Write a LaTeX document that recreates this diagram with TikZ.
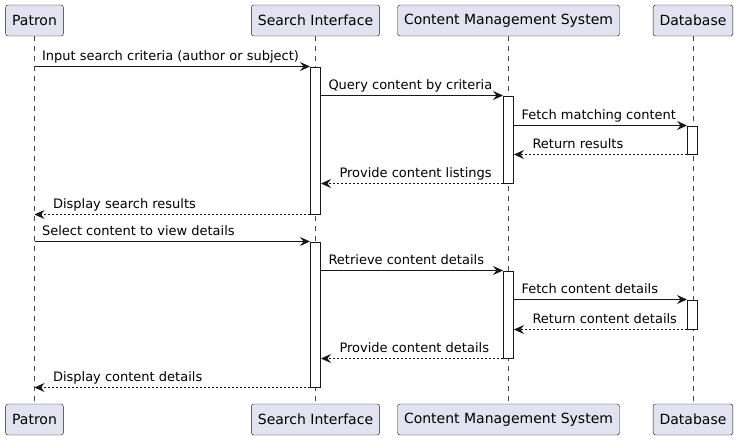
\documentclass[tikz,border=0pt]{standalone}
\usepackage{fontspec}
\setmainfont{DejaVu Sans}
\usetikzlibrary{arrows.meta}
\definecolor{partfill}{HTML}{E2E2F0}
\definecolor{partline}{HTML}{181818}
\tikzset{part/.style={rectangle,rounded corners=2.5pt,draw=partline,fill=partfill,minimum height=31pt,inner xsep=6.5pt,font=\fontsize{14}{16}\selectfont},
  act/.style={rectangle,draw=partline,fill=white,minimum width=10pt,inner sep=0pt,line width=1pt},
  life/.style={draw=partline!80,dash pattern=on 5pt off 5pt,line width=0.6pt},
  msg/.style={draw=partline,line width=1pt,-{Stealth[length=10pt,width=9pt,inset=3.5pt]}},
  ret/.style={msg,dash pattern=on 2pt off 2pt},
  lbl/.style={font=\fontsize{13}{15}\selectfont,inner sep=0pt,anchor=base west,text=black}}

\begin{document}
\begin{tikzpicture}[x=1pt,y=-1pt]
    \useasboundingbox (0,0) rectangle (738,440);
    \node[part] (pt) at (34.5,20.5) {Patron};
    \node[part] (st) at (315.5,20.5) {Search Interface};
    \node[part] (ct) at (508.5,20.5) {Content Management System};
    \node[part] (dt) at (693,20.5) {Database};
    \node[part] (pb) at (34.5,419.5) {Patron};
    \node[part] (sb) at (315.5,419.5) {Search Interface};
    \node[part] (cb) at (508.5,419.5) {Content Management System};
    \node[part] (db) at (693,419.5) {Database};

    \draw [life] (pt) -- (pb);
    \draw [life] (st) -- (sb);
    \draw [life] (ct) -- (cb);
    \draw [life] (dt) -- (db);

    \node[act,minimum height=147pt] (s1) at (315.5,140.5) {};
    \node[act,minimum height=145pt] (s2) at (315.5,314.5) {};
    \node[act,minimum height=87pt] (c1) at (508.5,139.5) {};
    \node[act,minimum height=87pt] (c2) at (508.5,314.5) {};
    \node[act,minimum height=28pt] (d1) at (692.5,140) {};
    \node[act,minimum height=29pt] (d2) at (692.5,314.5) {};

    % search
    \draw [msg] (pt |- s1.north) -- (s1.north west) node[lbl,pos=0,xshift=7pt,yshift=6pt] {Input search criteria (author or subject)};
    \draw [msg] (s1.east |- c1.north) -- (c1.north west) node[lbl,pos=0,xshift=7pt,yshift=6pt] {Query content by criteria};
    \draw [msg] (c1.east |- d1.north) -- (d1.north west) node[lbl,pos=0,xshift=7pt,yshift=6pt] {Fetch matching content};
    \draw [ret] (d1.south west) -- (c1.east |- d1.south) node[lbl,pos=1,xshift=18pt,yshift=6pt] {Return results};
    \draw [ret] (c1.south west) -- (s1.east |- c1.south) node[lbl,pos=1,xshift=18pt,yshift=6pt] {Provide content listings};
    \draw [ret] (s1.south west) -- (pt |- s1.south) node[lbl,pos=1,xshift=18pt,yshift=6pt] {Display search results};

    % details
    \draw [msg] (pt |- s2.north) -- (s2.north west) node[lbl,pos=0,xshift=7pt,yshift=6pt] {Select content to view details};
    \draw [msg] (s2.east |- c2.north) -- (c2.north west) node[lbl,pos=0,xshift=7pt,yshift=6pt] {Retrieve content details};
    \draw [msg] (c2.east |- d2.north) -- (d2.north west) node[lbl,pos=0,xshift=7pt,yshift=6pt] {Fetch content details};
    \draw [ret] (d2.south west) -- (c2.east |- d2.south) node[lbl,pos=1,xshift=18pt,yshift=6pt] {Return content details};
    \draw [ret] (c2.south west) -- (s2.east |- c2.south) node[lbl,pos=1,xshift=18pt,yshift=6pt] {Provide content details};
    \draw [ret] (s2.south west) -- (pt |- s2.south) node[lbl,pos=1,xshift=18pt,yshift=6pt] {Display content details};
\end{tikzpicture}
\end{document}
